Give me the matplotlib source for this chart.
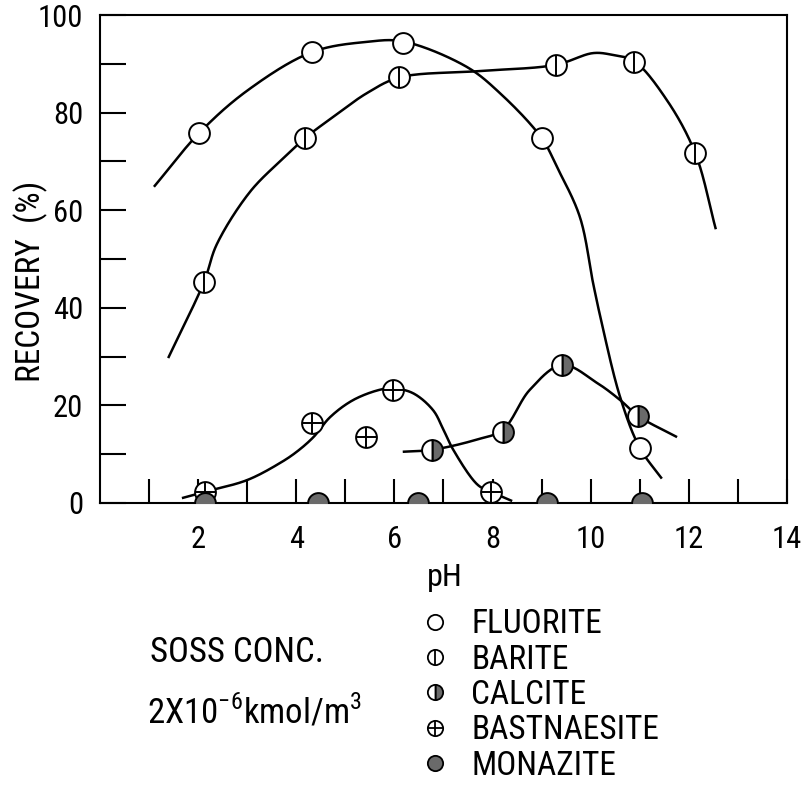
import numpy as np
import matplotlib
matplotlib.use("Agg")
import matplotlib.pyplot as plt
from matplotlib import font_manager
from matplotlib.lines import Line2D
from matplotlib.legend_handler import HandlerTuple

# measured points (pH, recovery %)
fluorite_ph = [2.02, 4.32, 6.17, 9.0, 11.0]
fluorite_rec = [75.8, 92.4, 94.3, 74.8, 11.3]
barite_ph = [2.12, 4.18, 6.1, 9.29, 10.88, 12.13]
barite_rec = [45.3, 74.8, 87.2, 89.8, 90.4, 71.7]
calcite_ph = [6.77, 8.21, 9.42, 10.97]
calcite_rec = [10.9, 14.5, 28.3, 17.8]
bast_ph = [2.14, 4.32, 5.42, 5.97, 7.97]
bast_rec = [2.3, 16.4, 13.5, 23.2, 2.3]
monazite_ph = [2.14, 4.45, 6.48, 9.11, 11.04]
monazite_rec = [0, 0, 0, 0, 0]

# hand-drawn trend curves, traced knots
fluorite_curve_ph = [1.1, 2.02, 3.0, 4.32, 5.44, 6.17, 7.47, 8.15, 9.0, 9.31, 9.78, 10.05, 10.2, 10.6, 11.0, 11.45]
fluorite_curve_rec = [64.8, 75.8, 84.5, 92.4, 94.5, 94.6, 89.4, 84.0, 74.8, 68.9, 58.6, 45.0, 38.0, 21.7, 11.3, 5.0]
barite_curve_ph = [1.39, 2.12, 2.38, 3.06, 3.73, 4.18, 4.75, 5.44, 6.1, 7.7, 9.29, 10.05, 10.46, 10.88, 11.55, 12.13, 12.55]
barite_curve_rec = [29.7, 45.3, 53.0, 63.8, 70.6, 74.8, 79.1, 84.0, 87.2, 88.5, 89.8, 92.2, 91.8, 90.6, 82.6, 71.7, 56.1]
calcite_curve_ph = [6.17, 6.77, 7.68, 8.21, 8.76, 9.42, 10.13, 10.6, 10.97, 11.76]
calcite_curve_rec = [10.5, 10.9, 13.0, 15.0, 23.2, 28.3, 24.6, 21.1, 17.8, 13.5]
bast_curve_ph = [1.67, 2.14, 3.0, 3.67, 4.01, 4.35, 4.69, 5.16, 5.7, 5.97, 6.38, 6.79, 7.0, 7.2, 7.7, 7.97, 8.4]
bast_curve_rec = [1.0, 2.3, 4.7, 8.2, 10.5, 13.5, 17.6, 21.1, 23.2, 23.5, 22.5, 19.0, 15.0, 10.9, 3.7, 2.3, 0.4]

names = {f.name for f in font_manager.fontManager.ttflist}
FONT = "Liberation Sans"
for cand in ["Liberation Sans Narrow", "Roboto Condensed", "Open Sans Condensed"]:
    if cand in names:
        FONT = cand
        break
plt.rcParams["font.family"] = [FONT, "DejaVu Sans"]

# px per unit on the reference axes, so the spline works in screen space
SX, SY = 49.07, 4.88


def smooth(xs, ys, n=30):
    # centripetal Catmull-Rom through the traced knots
    p = np.column_stack([np.asarray(xs) * SX, np.asarray(ys) * SY])
    p = np.vstack([2 * p[0] - p[1], p, 2 * p[-1] - p[-2]])
    out = []
    for i in range(1, len(p) - 2):
        p0, p1, p2, p3 = p[i - 1], p[i], p[i + 1], p[i + 2]
        t0 = 0.0
        t1 = t0 + np.linalg.norm(p1 - p0) ** 0.5
        t2 = t1 + np.linalg.norm(p2 - p1) ** 0.5
        t3 = t2 + np.linalg.norm(p3 - p2) ** 0.5
        t = np.linspace(t1, t2, n, endpoint=False)[:, None]
        a1 = (t1 - t) / (t1 - t0) * p0 + (t - t0) / (t1 - t0) * p1
        a2 = (t2 - t) / (t2 - t1) * p1 + (t - t1) / (t2 - t1) * p2
        a3 = (t3 - t) / (t3 - t2) * p2 + (t - t2) / (t3 - t2) * p3
        b1 = (t2 - t) / (t2 - t0) * a1 + (t - t0) / (t2 - t0) * a2
        b2 = (t3 - t) / (t3 - t1) * a2 + (t - t1) / (t3 - t1) * a3
        out.append((t2 - t) / (t2 - t1) * b1 + (t - t1) / (t2 - t1) * b2)
    out.append(p[-2][None, :])
    out = np.vstack(out)
    return out[:, 0] / SX, out[:, 1] / SY


fig = plt.figure(figsize=(8.01, 7.91), dpi=100)
ax = fig.add_axes([0.1248, 0.3641, 0.8577, 0.6169])

for cx, cy in [(fluorite_curve_ph, fluorite_curve_rec),
               (barite_curve_ph, barite_curve_rec),
               (calcite_curve_ph, calcite_curve_rec),
               (bast_curve_ph, bast_curve_rec)]:
    sx, sy = smooth(cx, cy)
    ax.plot(sx, sy, color="black", lw=1.8, zorder=2, solid_capstyle="butt")

MS = 15
MEW = 1.4
GREY = "#6a6a6a"
base = dict(linestyle="none", markersize=MS, markeredgewidth=MEW,
            markeredgecolor="black", zorder=4)

ax.plot(fluorite_ph, fluorite_rec, marker="o", markerfacecolor="white", **base)
ax.plot(barite_ph, barite_rec, marker="o", markerfacecolor="white", **base)
ax.plot(barite_ph, barite_rec, marker="|", **base)
ax.plot(calcite_ph, calcite_rec, marker="o", fillstyle="right",
        markerfacecolor=GREY, markerfacecoloralt="white", **base)
ax.plot(bast_ph, bast_rec, marker="o", markerfacecolor="white", **base)
ax.plot(bast_ph, bast_rec, marker="+", **base)
ax.plot(monazite_ph, monazite_rec, marker="o", markerfacecolor=GREY, **base)

ax.set_xlim(0, 14)
ax.set_ylim(0, 100)
ax.set_xticks(range(1, 15))
ax.set_xticklabels([str(v) if v % 2 == 0 else "" for v in range(1, 15)])
ax.set_yticks(range(0, 101, 10))
ax.set_yticklabels([str(v) if v % 20 == 0 else "" for v in range(0, 101, 10)])
ax.tick_params(axis="x", direction="in", length=17, width=1.5, pad=16, labelsize=22)
ax.tick_params(axis="y", direction="in", length=19, width=1.5, pad=12, labelsize=22)
for s in ax.spines.values():
    s.set_linewidth(1.5)
ax.set_ylabel("RECOVERY  (%)", fontsize=24)
ax.yaxis.set_label_coords(-0.075, 0.455)

fig.text(0.555, 0.27, "pH", fontsize=23, ha="center", va="center")
fig.text(0.187, 0.175, "SOSS CONC.", fontsize=25, ha="left", va="center")
fig.text(0.183, 0.1, r"2X10$^{\mathregular{-6}}$kmol/m$^{\mathregular{3}}$",
         fontsize=25, ha="left", va="center")

LMS = 11
lbase = dict(linestyle="none", markersize=LMS, markeredgewidth=1.3,
             markeredgecolor="black")
h_fl = Line2D([], [], marker="o", markerfacecolor="white", **lbase)
h_ba = (Line2D([], [], marker="o", markerfacecolor="white", **lbase),
        Line2D([], [], marker="|", **lbase))
h_ca = Line2D([], [], marker="o", fillstyle="right", markerfacecolor=GREY,
              markerfacecoloralt="white", **lbase)
h_bs = (Line2D([], [], marker="o", markerfacecolor="white", **lbase),
        Line2D([], [], marker="+", **lbase))
h_mo = Line2D([], [], marker="o", markerfacecolor=GREY, **lbase)
fig.legend([h_fl, h_ba, h_ca, h_bs, h_mo],
           ["FLUORITE", "BARITE", "CALCITE", "BASTNAESITE", "MONAZITE"],
           handler_map={tuple: HandlerTuple(ndivide=1)},
           loc="upper left", bbox_to_anchor=(0.522, 0.231), frameon=False,
           fontsize=24, handlelength=1.0, handletextpad=0.6, labelspacing=0.1,
           borderaxespad=0, borderpad=0)

fig.savefig("out.png", dpi=100, facecolor="white")
